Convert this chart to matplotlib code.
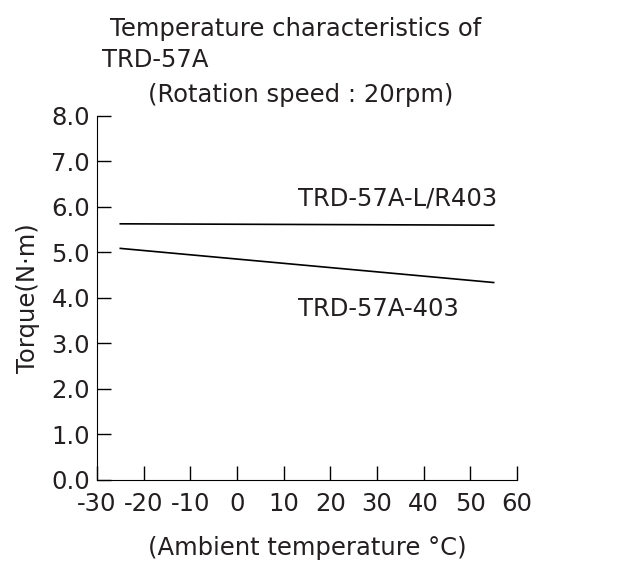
import matplotlib.pyplot as plt

# data
temps = [-25, 55]
torque_lr403 = [5.63, 5.60]
torque_403 = [5.09, 4.34]
xticks = [-30, -20, -10, 0, 10, 20, 30, 40, 50, 60]
yticks = [0, 1, 2, 3, 4, 5, 6, 7, 8]

plt.rcParams['font.family'] = ['DejaVu Sans']
txt = '#231f20'
fs = 17.5

fig = plt.figure(figsize=(6.31, 5.84), dpi=100)
ax = fig.add_axes([0.1537, 0.1781, 0.6656, 0.6233])

ax.plot(temps, torque_lr403, color='black', lw=1.2)
ax.plot(temps, torque_403, color='black', lw=1.2)

ax.set_xlim(-30, 60)
ax.set_ylim(0, 8)
ax.set_xticks(xticks)
ax.set_xticklabels([str(t) for t in xticks])
ax.set_yticks(yticks)
ax.set_yticklabels(['%.1f' % v for v in yticks])
ax.tick_params(axis='both', direction='in', length=10, width=1, labelsize=fs,
               labelcolor=txt)
ax.tick_params(axis='x', pad=9)
ax.tick_params(axis='y', pad=5)
ax.spines['top'].set_visible(False)
ax.spines['right'].set_visible(False)

ax.text(13.1, 6.18, 'TRD-57A-L/R403', fontsize=fs, color=txt, va='center')
ax.text(13.1, 3.76, 'TRD-57A-403', fontsize=fs, color=txt, va='center')

ax.set_ylabel('Torque(N·m)', fontsize=fs, color=txt, labelpad=8)
ax.set_xlabel('(Ambient temperature °C)', fontsize=fs, color=txt, labelpad=14)

fig.text(110 / 631, 1 - 29 / 584, 'Temperature characteristics of', fontsize=fs,
         color=txt, va='center')
fig.text(102 / 631, 1 - 60 / 584, 'TRD-57A', fontsize=fs, color=txt, va='center')
fig.text(148 / 631, 1 - 95 / 584, '(Rotation speed : 20rpm)', fontsize=fs,
         color=txt, va='center')

fig.savefig('out.png', dpi=100)
